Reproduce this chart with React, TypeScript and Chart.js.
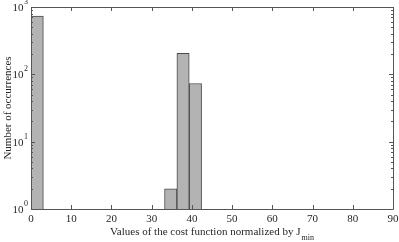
import React, { useEffect, useRef } from "react";
import { Chart, registerables } from "chart.js";

Chart.register(...registerables);

// Histogram data (bin start edges, common bin width, counts)
const binStarts = [0, 9.2, 12.27, 27.06, 30.13, 33.2, 36.27, 39.34, 84.5];
const binWidth = 3.07;
const counts = [730, 1, 1, 1, 1, 2, 205, 73, 1];

const xTicks = [0, 10, 20, 30, 40, 50, 60, 70, 80, 90];
const yDecadeExps = [0, 1, 2, 3];

const xTitle = "Values of the cost function normalized by J";
const xTitleSub = "min";
const yTitle = "Number of occurrences";

const FONT = "'Liberation Serif', 'DejaVu Serif', serif";
const TEXT = "#262626";
const AXIS = "#555555";

export default function App() {
  const ref = useRef<HTMLCanvasElement | null>(null);

  useEffect(() => {
    document.body.style.margin = "0";
    const canvas = ref.current;
    if (!canvas) return;

    const decorations = {
      id: "decorations",
      afterDraw(chart: any) {
        const { ctx, chartArea } = chart;
        const x = chart.scales.x;
        const y = chart.scales.y;
        const { left, right, top, bottom } = chartArea;
        ctx.save();
        ctx.strokeStyle = AXIS;
        ctx.lineWidth = 1;
        // box
        ctx.beginPath();
        ctx.rect(Math.round(left) + 0.5, Math.round(top) + 0.5, Math.round(right - left), Math.round(bottom - top));
        ctx.stroke();
        // x ticks (inward, bottom and top)
        ctx.beginPath();
        for (const v of xTicks) {
          const px = Math.round(x.getPixelForValue(v)) + 0.5;
          ctx.moveTo(px, bottom);
          ctx.lineTo(px, bottom - 4);
          ctx.moveTo(px, top);
          ctx.lineTo(px, top + 4);
        }
        // y ticks (major and minor, inward both sides)
        for (const e of yDecadeExps) {
          const base = Math.pow(10, e);
          const py = Math.round(y.getPixelForValue(base)) + 0.5;
          ctx.moveTo(left, py);
          ctx.lineTo(left + 4, py);
          ctx.moveTo(right, py);
          ctx.lineTo(right - 4, py);
          if (e < 3) {
            for (let m = 2; m <= 9; m++) {
              const pm = Math.round(y.getPixelForValue(base * m)) + 0.5;
              ctx.moveTo(left, pm);
              ctx.lineTo(left + 2, pm);
              ctx.moveTo(right, pm);
              ctx.lineTo(right - 2, pm);
            }
          }
        }
        ctx.stroke();

        // y tick labels 10^e
        ctx.fillStyle = TEXT;
        ctx.textBaseline = "middle";
        for (const e of yDecadeExps) {
          const py = y.getPixelForValue(Math.pow(10, e));
          ctx.font = `8px ${FONT}`;
          const supW = ctx.measureText(String(e)).width;
          const supX = left - 3 - supW;
          ctx.textAlign = "left";
          ctx.fillText(String(e), supX, py - 5);
          ctx.font = `11px ${FONT}`;
          ctx.textAlign = "right";
          ctx.fillText("10", supX - 0.5, py + 1);
        }

        // x title with subscript
        ctx.font = `11px ${FONT}`;
        const mainW = ctx.measureText(xTitle).width;
        ctx.font = `8px ${FONT}`;
        const subW = ctx.measureText(xTitleSub).width;
        const cx = (left + right) / 2;
        const startX = cx - (mainW + subW + 1) / 2;
        ctx.textAlign = "left";
        ctx.textBaseline = "alphabetic";
        ctx.font = `11px ${FONT}`;
        ctx.fillText(xTitle, startX, 235);
        ctx.font = `8px ${FONT}`;
        ctx.fillText(xTitleSub, startX + mainW + 1, 240);

        // y title rotated
        ctx.font = `11px ${FONT}`;
        ctx.translate(11, (top + bottom) / 2);
        ctx.rotate(-Math.PI / 2);
        ctx.textAlign = "center";
        ctx.textBaseline = "alphabetic";
        ctx.fillText(yTitle, 0, 0);
        ctx.restore();
      },
    };

    const chart = new Chart(canvas, {
      type: "bar",
      data: {
        datasets: [
          {
            data: binStarts.map((s, i) => ({ x: s + binWidth / 2, y: counts[i] })),
            backgroundColor: "#b3b3b3",
            borderColor: "#4a4a4a",
            borderWidth: 1,
            borderSkipped: "start",
            barPercentage: 1,
            categoryPercentage: 1,
          },
        ],
      },
      options: {
        responsive: false,
        animation: false,
        events: [],
        layout: { padding: { top: 7, right: 6, left: 0, bottom: 0 } },
        plugins: { legend: { display: false }, tooltip: { enabled: false } },
        scales: {
          x: {
            type: "linear",
            min: 0,
            max: 90,
            offset: false,
            grid: { display: false, drawTicks: false, offset: false },
            border: { display: false },
            ticks: {
              stepSize: 10,
              padding: 4,
              color: TEXT,
              font: { family: FONT, size: 11 },
              maxRotation: 0,
            },
            afterFit(scale: any) {
              scale.height = 33;
              scale.paddingLeft = 0;
              scale.paddingRight = 0;
            },
          },
          y: {
            type: "logarithmic",
            min: 1,
            max: 1000,
            grid: { display: false, drawTicks: false },
            border: { display: false },
            ticks: { display: false },
            afterFit(scale: any) {
              scale.width = 31;
              scale.paddingTop = 0;
              scale.paddingBottom = 0;
            },
          },
        },
      },
      plugins: [decorations],
    });

    return () => chart.destroy();
  }, []);

  return (
    <div style={{ width: 399, height: 242 }}>
      <canvas ref={ref} width={399} height={242} style={{ display: "block" }} />
    </div>
  );
}
